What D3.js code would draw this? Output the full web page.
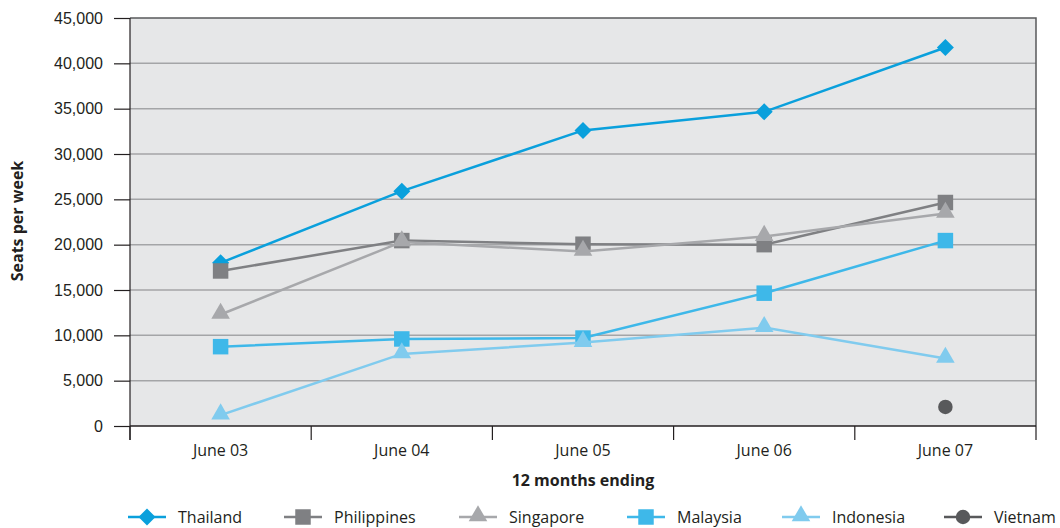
<!DOCTYPE html>
<html>
<head>
<meta charset="utf-8">
<script src="https://cdn.jsdelivr.net/npm/d3@7"></script>
<style>
  html, body { margin: 0; padding: 0; background: #ffffff; }
  svg { display: block; font-family: "Open Sans", "Noto Sans", sans-serif; }
</style>
</head>
<body>
<svg id="chart" width="1060" height="528"></svg>
<script>
// Weekly seat capacity, 12 months ending June of each year
const categories = ["June 03", "June 04", "June 05", "June 06", "June 07"];
const yTicks = [0, 5000, 10000, 15000, 20000, 25000, 30000, 35000, 40000, 45000];

const thailand    = [18000, 25900, 32600, 34650, 41750];
const philippines = [17100, 20450, 20050, 20000, 24650];
const singapore   = [12300, 20300, 19250, 20900, 23450];
const malaysia    = [8750, 9600, 9700, 14650, 20450];
const indonesia   = [1200, 7950, 9200, 10850, 7450];
const vietnam     = [null, null, null, null, 2100];

const seriesNames  = ["Thailand", "Philippines", "Singapore", "Malaysia", "Indonesia", "Vietnam"];
const seriesValues = [thailand, philippines, singapore, malaysia, indonesia, vietnam];
const seriesColors = ["#0aa0dc", "#7f8083", "#a7a8ab", "#3eb8e9", "#80cbee", "#58595b"];
const seriesShapes = ["diamond", "square", "triangle", "square", "triangle", "circle"];

const svg = d3.select("#chart");
const plot = { left: 130, right: 1036, top: 18, bottom: 426 };
const fontSize = 16;

const x = d3.scaleBand().domain(categories).range([plot.left, plot.right]);
const y = d3.scaleLinear().domain([0, 45000]).range([plot.bottom, plot.top]);

// plot background
svg.append("rect")
  .attr("x", plot.left).attr("y", plot.top)
  .attr("width", plot.right - plot.left).attr("height", plot.bottom - plot.top)
  .attr("fill", "#e6e7e8");

// horizontal gridlines
svg.append("g").selectAll("line")
  .data(yTicks.filter(t => t > 0 && t < 45000))
  .join("line")
  .attr("x1", plot.left).attr("x2", plot.right)
  .attr("y1", d => y(d)).attr("y2", d => y(d))
  .attr("stroke", "#a4a5a7").attr("stroke-width", 1.5);

// frame: top and right edges
svg.append("path")
  .attr("d", `M${plot.left},${plot.top}H${plot.right}V${plot.bottom}`)
  .attr("fill", "none").attr("stroke", "#58595b").attr("stroke-width", 1.5);

// y axis
const yAxis = d3.axisLeft(y).tickValues(yTicks).tickFormat(d3.format(",")).tickSize(16).tickPadding(11);
const gy = svg.append("g").attr("transform", `translate(${plot.left},0)`).call(yAxis);
gy.select(".domain").remove();
gy.selectAll(".tick line").attr("stroke", "#231f20").attr("stroke-width", 1.2);
gy.selectAll(".tick text").attr("font-size", fontSize).attr("fill", "#231f20");
svg.append("line")
  .attr("x1", plot.left).attr("x2", plot.left)
  .attr("y1", plot.top).attr("y2", plot.bottom + 14)
  .attr("stroke", "#231f20").attr("stroke-width", 1.2);

// x axis: band edges as tick marks, labels centred in each band
const gx = svg.append("g");
gx.append("line")
  .attr("x1", plot.left).attr("x2", plot.right)
  .attr("y1", plot.bottom).attr("y2", plot.bottom)
  .attr("stroke", "#231f20").attr("stroke-width", 1.5);
const edges = categories.map(c => x(c)).concat([x(categories[categories.length - 1]) + x.bandwidth()]);
gx.selectAll("line.edge").data(edges).join("line")
  .attr("class", "edge")
  .attr("x1", d => d).attr("x2", d => d)
  .attr("y1", plot.bottom).attr("y2", plot.bottom + 14)
  .attr("stroke", "#231f20").attr("stroke-width", 1.2);
gx.selectAll("text").data(categories).join("text")
  .attr("x", d => x(d) + x.bandwidth() / 2)
  .attr("y", 456)
  .attr("text-anchor", "middle")
  .attr("font-size", fontSize).attr("fill", "#231f20")
  .text(d => d);

// axis titles
svg.append("text")
  .attr("x", (plot.left + plot.right) / 2).attr("y", 486)
  .attr("text-anchor", "middle").attr("font-size", fontSize).attr("font-weight", "bold")
  .attr("fill", "#231f20")
  .text("12 months ending");
svg.append("text")
  .attr("transform", "translate(23,221) rotate(-90)")
  .attr("text-anchor", "middle").attr("font-size", fontSize).attr("font-weight", "bold")
  .attr("fill", "#231f20")
  .text("Seats per week");

// marker glyphs
const diamondPath = "M0,-8.5L8.5,0L0,8.5L-8.5,0Z";
function drawMarker(g, shape, color, cx, cy) {
  let path;
  if (shape === "square") path = d3.symbol().type(d3.symbolSquare).size(240)();
  else if (shape === "triangle") path = d3.symbol().type(d3.symbolTriangle).size(150)();
  else if (shape === "diamond") path = diamondPath;
  else path = d3.symbol().type(d3.symbolCircle).size(165)();
  const dy = shape === "triangle" ? -1 : 0;
  g.append("path")
    .attr("d", path)
    .attr("transform", `translate(${cx},${cy + dy})`)
    .attr("fill", color);
}

const cx = c => x(c) + x.bandwidth() / 2;
const line = d3.line()
  .defined(d => d.v !== null)
  .x(d => cx(d.c))
  .y(d => y(d.v));

seriesNames.forEach((name, i) => {
  const pts = categories.map((c, j) => ({ c, v: seriesValues[i][j] }));
  const g = svg.append("g");
  g.append("path")
    .datum(pts)
    .attr("d", line)
    .attr("fill", "none")
    .attr("stroke", seriesColors[i])
    .attr("stroke-width", 2.5);
  pts.filter(p => p.v !== null).forEach(p => drawMarker(g, seriesShapes[i], seriesColors[i], cx(p.c), y(p.v)));
});

// legend
const legendX = [128, 284, 459, 627, 782, 944];
const legendY = 517;
seriesNames.forEach((name, i) => {
  const g = svg.append("g");
  g.append("line")
    .attr("x1", legendX[i]).attr("x2", legendX[i] + 38)
    .attr("y1", legendY).attr("y2", legendY)
    .attr("stroke", seriesColors[i]).attr("stroke-width", 2.5);
  drawMarker(g, seriesShapes[i], seriesColors[i], legendX[i] + 19, legendY);
  g.append("text")
    .attr("x", legendX[i] + 50).attr("y", legendY + 6)
    .attr("font-size", fontSize).attr("fill", "#231f20")
    .text(name);
});
</script>
</body>
</html>
